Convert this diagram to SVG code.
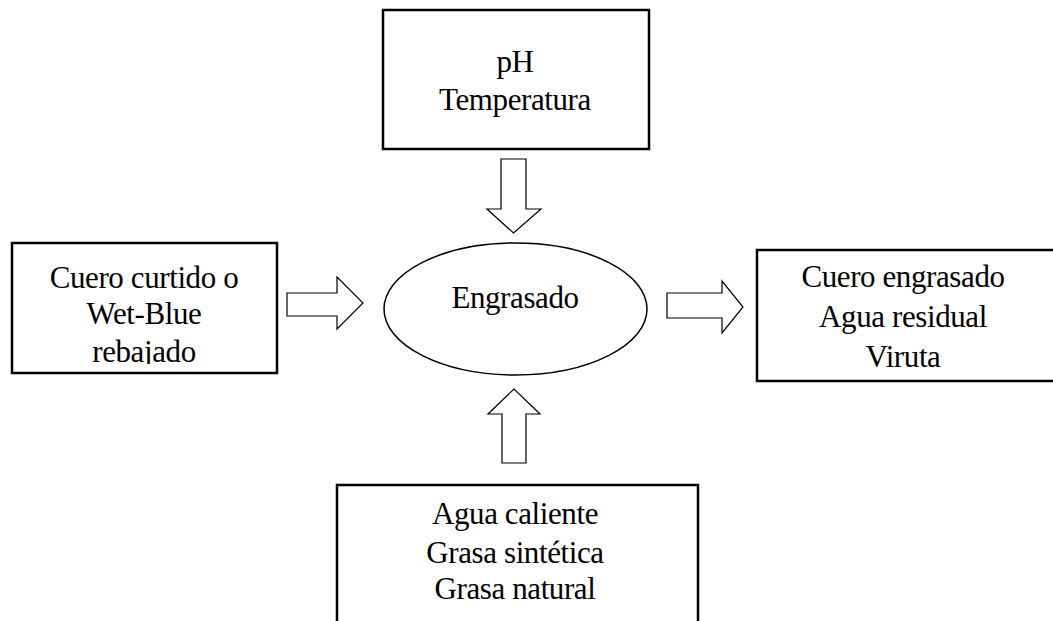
<svg xmlns="http://www.w3.org/2000/svg" width="1053" height="621" viewBox="0 0 1053 621">
  <style>
    .box { fill: #fff; stroke: #000; stroke-width: 2.5; }
    .oval { fill: #fff; stroke: #000; stroke-width: 1.5; }
    .arrow { fill: #fff; stroke: #000; stroke-width: 1.2; stroke-linejoin: miter; }
    .lbl { font-family: "Liberation Serif", "Times New Roman", serif; font-size: 31px; letter-spacing: -0.4px; fill: #000; text-anchor: middle; }
  </style>
  <defs>
    <clipPath id="clip-left">
      <rect x="12" y="243" width="265" height="121"/>
    </clipPath>
  </defs>
  <rect width="1053" height="621" fill="#fff"/>

  <!-- connectors: block arrows -->
  <g id="connectors">
    <path class="arrow" d="M501,159 H526 V209 H541 L513.5,233 L487,209 H501 Z"/>
    <path class="arrow" d="M502,463 H526 V414 H540 L514,389 L488,414 H502 Z"/>
    <path class="arrow" d="M287,293 H337 V277 L363,303 L337,329 V316 H287 Z"/>
    <path class="arrow" d="M667,293 H722 V281 L743,307 L722,333 V318 H667 Z"/>
  </g>

  <g id="node-params">
    <rect class="box" x="383" y="10" width="266" height="139"/>
    <text class="lbl" x="515" y="72">pH</text>
    <text class="lbl" x="515" y="110">Temperatura</text>
  </g>

  <g id="node-process">
    <ellipse class="oval" cx="515.5" cy="309" rx="131.5" ry="66"/>
    <text class="lbl" x="515" y="308">Engrasado</text>
  </g>

  <g id="node-input">
    <rect class="box" x="12" y="243" width="265" height="130"/>
    <g clip-path="url(#clip-left)">
      <text class="lbl" x="144" y="288">Cuero curtido o</text>
      <text class="lbl" x="144" y="324">Wet-Blue</text>
      <text class="lbl" x="144" y="362">rebajado</text>
    </g>
  </g>

  <g id="node-output">
    <rect class="box" x="757" y="250" width="310" height="131"/>
    <text class="lbl" x="903" y="287">Cuero engrasado</text>
    <text class="lbl" x="903" y="327">Agua residual</text>
    <text class="lbl" x="903" y="367">Viruta</text>
  </g>

  <g id="node-additives">
    <rect class="box" x="337" y="485" width="361" height="150"/>
    <text class="lbl" x="515" y="524">Agua caliente</text>
    <text class="lbl" x="515" y="563">Grasa sintética</text>
    <text class="lbl" x="515" y="599">Grasa natural</text>
  </g>
</svg>
